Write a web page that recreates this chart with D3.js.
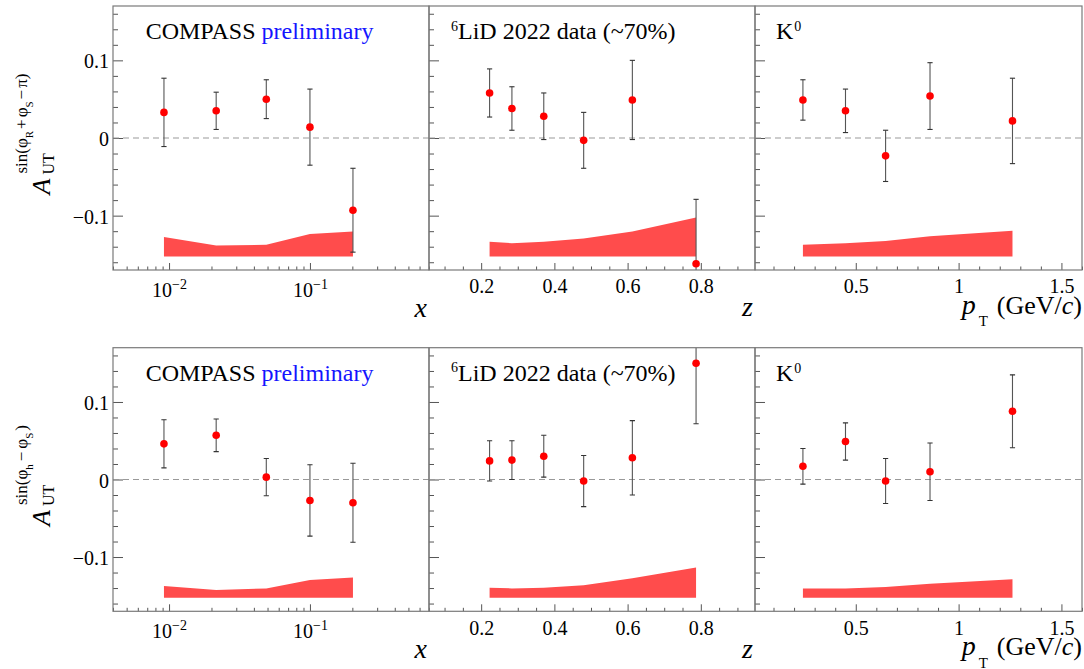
<!DOCTYPE html>
<html>
<head>
<meta charset="utf-8">
<script src="https://cdn.jsdelivr.net/npm/d3@7"></script>
<style>
  body { margin: 0; background: #fff; }
  svg { display: block; }
  text { font-family: "Liberation Serif", "Times New Roman", serif; fill: #000; }
</style>
</head>
<body>
<svg id="chart" width="1084" height="669"></svg>
<script>
// ---- kinematic bin centres ----
const xBins  = [0.0092, 0.0216, 0.049, 0.100, 0.202];
const zBins  = [0.223, 0.284, 0.371, 0.480, 0.613, 0.787];
const ptBins = [0.243, 0.450, 0.645, 0.861, 1.262];

// ---- A_UT^{sin(phiR + phiS - pi)} (upper row) ----
const aRS_x      = [0.033, 0.035, 0.050, 0.014, -0.093];
const aRS_x_err  = [0.044, 0.024, 0.025, 0.049, 0.054];
const aRS_x_sys  = [0.025, 0.014, 0.015, 0.029, 0.032];
const aRS_z      = [0.058, 0.038, 0.028, -0.003, 0.049, -0.162];
const aRS_z_err  = [0.031, 0.028, 0.030, 0.036, 0.051, 0.083];
const aRS_z_sys  = [0.019, 0.017, 0.019, 0.023, 0.032, 0.050];
const aRS_pt     = [0.049, 0.035, -0.023, 0.054, 0.022];
const aRS_pt_err = [0.026, 0.028, 0.033, 0.043, 0.055];
const aRS_pt_sys = [0.015, 0.017, 0.020, 0.026, 0.033];

// ---- A_UT^{sin(phih - phiS)} (lower row) ----
const aS_x      = [0.046, 0.057, 0.003, -0.027, -0.030];
const aS_x_err  = [0.031, 0.021, 0.024, 0.046, 0.051];
const aS_x_sys  = [0.015, 0.010, 0.012, 0.023, 0.026];
const aS_z      = [0.024, 0.025, 0.030, -0.002, 0.028, 0.150];
const aS_z_err  = [0.026, 0.025, 0.027, 0.033, 0.048, 0.078];
const aS_z_sys  = [0.013, 0.012, 0.013, 0.016, 0.025, 0.039];
const aS_pt     = [0.017, 0.049, -0.002, 0.010, 0.088];
const aS_pt_err = [0.023, 0.024, 0.029, 0.037, 0.047];
const aS_pt_sys = [0.012, 0.012, 0.014, 0.018, 0.024];

// systematic band baseline
const sysBase = -0.1525;

// axis ranges and tick labels
const xRange    = [0.004, 0.70];
const zRange    = [0.0575, 0.948];
const ptRange   = [0.01, 1.60];
const asymRange = [-0.17, 0.17];
const yMajor    = [-0.1, 0, 0.1];
const yLabels   = ["\u22120.1", "0", "0.1"];
const zLabels   = ["0.2", "0.4", "0.6", "0.8"];
const ptLabels  = ["0.5", "1", "1.5"];

// ---- layout ----
const svg = d3.select("#chart");
const colEdges = [[113, 429], [429, 755], [755, 1082]];
const rowEdges = [[6, 270], [347.7, 611.3]];
const FRAME = "#7a7a7a", TICK = "#555", BAR = "#555";
const RED = "#ff0000", BAND = "#ff4c4c";

const rows = [
  { vals: [aRS_x, aRS_z, aRS_pt], errs: [aRS_x_err, aRS_z_err, aRS_pt_err], syss: [aRS_x_sys, aRS_z_sys, aRS_pt_sys] },
  { vals: [aS_x, aS_z, aS_pt],    errs: [aS_x_err, aS_z_err, aS_pt_err],    syss: [aS_x_sys, aS_z_sys, aS_pt_sys] }
];
const binsByCol = [xBins, zBins, ptBins];

function makeX(col) {
  const r = colEdges[col];
  if (col === 0) return d3.scaleLog().domain(xRange).range(r);
  if (col === 1) return d3.scaleLinear().domain(zRange).range(r);
  return d3.scaleLinear().domain(ptRange).range(r);
}

const defs = svg.append("defs");

rows.forEach((row, ri) => {
  const [top, bot] = rowEdges[ri];
  const y = d3.scaleLinear().domain(asymRange).range([bot, top]);

  [0, 1, 2].forEach(ci => {
    const x = makeX(ci);
    const [left, right] = colEdges[ci];
    const bins = binsByCol[ci];
    const vals = row.vals[ci], errs = row.errs[ci], syss = row.syss[ci];
    const clipId = `clip-${ri}-${ci}`;
    defs.append("clipPath").attr("id", clipId)
      .append("rect").attr("x", left).attr("y", top).attr("width", right - left).attr("height", bot - top);

    const panel = svg.append("g");

    // ---- x axis ticks ----
    let allTicks, majors;
    if (ci === 0) {
      allTicks = x.ticks();
      majors = allTicks.filter(v => Math.abs(Math.log10(v) - Math.round(Math.log10(v))) < 1e-6);
    } else if (ci === 1) {
      allTicks = d3.ticks(zRange[0], zRange[1], 18);
      majors = allTicks.filter(v => Math.abs(v / 0.2 - Math.round(v / 0.2)) < 1e-6);
    } else {
      allTicks = d3.ticks(ptRange[0], ptRange[1], 16);
      majors = allTicks.filter(v => Math.abs(v / 0.5 - Math.round(v / 0.5)) < 1e-6);
    }
    const minors = allTicks.filter(v => !majors.includes(v));

    const gxMinor = panel.append("g").attr("transform", `translate(0,${bot})`).attr("color", TICK)
      .call(d3.axisBottom(x).tickValues(minors).tickSize(-3.5).tickSizeOuter(0).tickFormat(""));
    gxMinor.select(".domain").remove();

    const labelSet = ci === 1 ? zLabels : ptLabels;
    const gxMajor = panel.append("g").attr("transform", `translate(0,${bot})`).attr("color", TICK)
      .call(d3.axisBottom(x).tickValues(majors).tickSize(-7).tickSizeOuter(0)
        .tickFormat((d, i) => ci === 0 ? "" : labelSet[i]));
    gxMajor.select(".domain").remove();
    gxMajor.selectAll("text")
      .attr("font-family", "Liberation Serif").attr("font-size", 20).attr("fill", "#000")
      .attr("y", ci === 0 ? 26.7 : 23.3).attr("dy", null);
    if (ci === 0) {
      gxMajor.selectAll("text").each(function (d) {
        const t = d3.select(this);
        t.append("tspan").text("10");
        t.append("tspan").attr("font-size", 14).attr("dy", -7.7).text("\u2212" + Math.round(-Math.log10(d)));
      });
    }

    // ---- y axis ticks (inward, labels only on first column) ----
    const yMinorVals = d3.range(-8, 9).map(k => k * 0.02).filter(v => Math.abs(v * 10 - Math.round(v * 10)) > 1e-6);
    const gyMinor = panel.append("g").attr("transform", `translate(${left},0)`).attr("color", TICK)
      .call(d3.axisLeft(y).tickValues(yMinorVals).tickSize(-5).tickSizeOuter(0).tickFormat(""));
    gyMinor.select(".domain").remove();
    const gyMajor = panel.append("g").attr("transform", `translate(${left},0)`).attr("color", TICK)
      .call(d3.axisLeft(y).tickValues(yMajor).tickSize(-10).tickSizeOuter(0).tickPadding(4)
        .tickFormat((d, i) => ci === 0 ? yLabels[i] : ""));
    gyMajor.select(".domain").remove();
    gyMajor.selectAll("text")
      .attr("font-family", "Liberation Serif").attr("font-size", 20).attr("fill", "#000")
      .attr("dy", "0.38em");

    // ---- plot content ----
    const body = panel.append("g").attr("clip-path", `url(#${clipId})`);

    // zero line
    body.append("line")
      .attr("x1", left).attr("x2", right).attr("y1", y(0)).attr("y2", y(0))
      .attr("stroke", "#999").attr("stroke-width", 1).attr("stroke-dasharray", "6,4");

    // systematic band
    const area = d3.area()
      .x((d, i) => x(bins[i]))
      .y0(y(sysBase))
      .y1(d => y(sysBase + d));
    body.append("path").datum(syss).attr("d", area).attr("fill", BAND);

    // statistical error bars
    const pts = bins.map((b, i) => ({ b, v: vals[i], e: errs[i] }));
    const eb = body.selectAll(".eb").data(pts).join("g");
    eb.append("line")
      .attr("x1", d => x(d.b)).attr("x2", d => x(d.b))
      .attr("y1", d => y(d.v - d.e)).attr("y2", d => y(d.v + d.e))
      .attr("stroke", BAR).attr("stroke-width", 1.1);
    eb.append("line")
      .attr("x1", d => x(d.b) - 2.6).attr("x2", d => x(d.b) + 2.6)
      .attr("y1", d => y(d.v + d.e)).attr("y2", d => y(d.v + d.e))
      .attr("stroke", "#333").attr("stroke-width", 1.1);
    eb.append("line")
      .attr("x1", d => x(d.b) - 2.6).attr("x2", d => x(d.b) + 2.6)
      .attr("y1", d => y(d.v - d.e)).attr("y2", d => y(d.v - d.e))
      .attr("stroke", "#333").attr("stroke-width", 1.1);

    // markers
    body.selectAll(".pt").data(pts).join("circle")
      .attr("cx", d => x(d.b)).attr("cy", d => y(d.v)).attr("r", 3.8).attr("fill", RED);

    // frame
    panel.append("rect")
      .attr("x", left).attr("y", top).attr("width", right - left).attr("height", bot - top)
      .attr("fill", "none").attr("stroke", FRAME).attr("stroke-width", 1.2);
  });

  // ---- in-panel captions ----
  const ty = top + 33.3;
  const c1 = svg.append("text").attr("x", 145.7).attr("y", ty).attr("font-size", 24);
  c1.append("tspan").text("COMPASS ");
  c1.append("tspan").attr("fill", "#1414ff").text("preliminary");

  const c2 = svg.append("text").attr("x", 451).attr("y", ty).attr("font-size", 24);
  c2.append("tspan").attr("font-size", 14).attr("dy", -8.6).text("6");
  c2.append("tspan").attr("dy", 8.6).text("LiD 2022 data (~70%)");

  const c3 = svg.append("text").attr("x", 776).attr("y", ty).attr("font-size", 24);
  c3.append("tspan").text("K");
  c3.append("tspan").attr("font-size", 14).attr("dy", -8).attr("dx", 1).text("0");

  // ---- x-axis titles ----
  const tb = top + 310.7;
  svg.append("text").attr("x", 427).attr("y", tb).attr("text-anchor", "end")
    .attr("font-size", 28).attr("font-style", "italic").text("x");
  svg.append("text").attr("x", 753).attr("y", tb - 0.5).attr("text-anchor", "end")
    .attr("font-size", 28).attr("font-style", "italic").text("z");
  const pt = svg.append("text").attr("x", 1082).attr("y", tb - 3).attr("text-anchor", "end").attr("font-size", 26);
  pt.append("tspan").attr("font-size", 28).attr("font-style", "italic").text("p");
  pt.append("tspan").attr("font-size", 15).attr("dx", 3).attr("dy", 12.5).text("T");
  pt.append("tspan").attr("dx", 9).attr("dy", -12.5).text("(GeV/");
  pt.append("tspan").attr("font-style", "italic").text("c");
  pt.append("tspan").text(")");

  // ---- y-axis title ----
  const g = svg.append("g").attr("transform", `translate(50,${y(0)}) rotate(-90)`);
  const inner = g.append("g");
  const a = inner.append("text").attr("font-size", 26).attr("font-style", "italic").text("A");
  const off = a.node().getComputedTextLength() + 4;
  const ut = inner.append("text").attr("x", off).attr("y", 3.5).attr("font-size", 16).text("UT");
  const sup = inner.append("text").attr("x", off + 1).attr("y", -23).attr("font-size", 17);
  if (ri === 0) {
    sup.append("tspan").text("sin(\u03c6");
    sup.append("tspan").attr("font-size", 11).attr("dy", 6).text("R");
    sup.append("tspan").attr("dy", -6).attr("dx", 2).text("+");
    sup.append("tspan").attr("dx", 2).text("\u03c6");
    sup.append("tspan").attr("font-size", 11).attr("dy", 6).text("S");
    sup.append("tspan").attr("dy", -6).attr("dx", 2).text("\u2212");
    sup.append("tspan").attr("dx", 2).text("\u03c0)");
  } else {
    sup.append("tspan").text("sin(\u03c6");
    sup.append("tspan").attr("font-size", 11).attr("dy", 6).text("h");
    sup.append("tspan").attr("dy", -6).attr("dx", 3).text("\u2212");
    sup.append("tspan").attr("dx", 3).text("\u03c6");
    sup.append("tspan").attr("font-size", 11).attr("dy", 6).text("S");
    sup.append("tspan").attr("dy", -6).attr("dx", 2).text(")");
  }
  const total = off + 1 + Math.max(ut.node().getComputedTextLength(), sup.node().getComputedTextLength());
  inner.attr("transform", `translate(${-total / 2},0)`);
});
</script>
</body>
</html>
